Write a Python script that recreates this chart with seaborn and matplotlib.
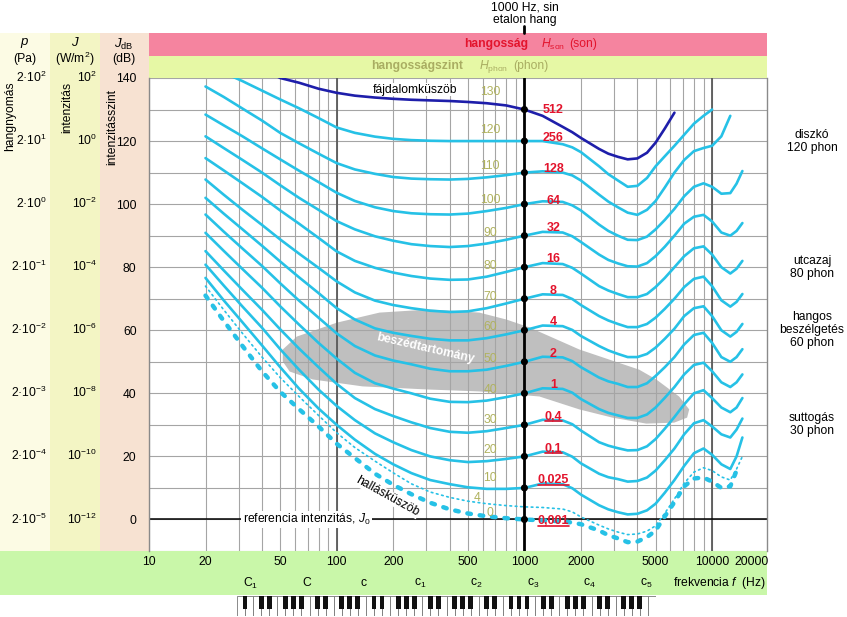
import numpy as np
import pandas as pd
import matplotlib
matplotlib.use("Agg")
import matplotlib.pyplot as plt
import matplotlib.ticker as mticker
import matplotlib.transforms as mtrans
from matplotlib.patches import Rectangle, Polygon
from matplotlib.lines import Line2D
import seaborn as sns

nan = np.nan

freq = [20, 25, 31.5, 40, 50, 63, 80, 100, 125, 160, 200, 250, 315, 400, 500, 630, 800,
        1000, 1250, 1600, 1800, 2000, 2500, 2800, 3150, 3550, 4000, 4500, 5000, 5600, 6300,
        7100, 8000, 9000, 10000, 11200, 12500, 13500, 14500]

# equal loudness contours (dB)
pain_130 = [nan, nan, nan, 143.0, 140.0, 138.5, 136.6, 135.3, 134.4, 133.8, 133.4, 133.1, 132.9,
            132.7, 132.4, 132.0, 131.3, 130.0, 128.0, 124.5, 122.8, 121.0, 117.5, 116.0, 115.0,
            114.2, 114.5, 116.3, 119.5, 124.0, 129.0, nan, nan, nan, nan, nan, nan, nan, nan]
phon_120 = [144.5, 141.7, 139.0, 136.0, 133.2, 130.4, 127.3, 124.3, 122.6, 121.4, 120.7, 120.3,
            120.1, 120.0, 120.0, 120.0, 120.0, 120.0, 120.0, 119.0, 118.0, 116.5, 112.0, 109.5,
            107.5, 105.5, 105.8, 108.3, 112.0, 115.2, 118.5, 122.0, 125.5, 128.0, 130.0,
            nan, nan, nan, nan]
phon_110 = [137.3, 134.0, 130.3, 126.5, 122.6, 119.3, 116.0, 113.0, 111.0, 109.6, 108.6, 108.1,
            107.9, 107.8, 108.0, 108.5, 109.2, 110.0, 110.4, 110.0, 109.1, 107.5, 103.0, 100.8,
            99.0, 97.3, 96.6, 98.2, 101.0, 105.3, 110.0, 114.0, 116.8, 117.8, 118.5, 121.5,
            128.0, nan, nan]
phon_100 = [128.4, 125.0, 121.5, 117.7, 114.2, 110.6, 107.0, 103.6, 101.0, 99.0, 97.8, 97.1,
            96.8, 96.7, 97.0, 97.8, 98.8, 100.0, 100.9, 100.7, 99.6, 98.0, 93.5, 91.5, 90.0,
            88.7, 88.6, 89.7, 92.0, 95.0, 98.5, 102.5, 105.5, 106.6, 105.5, 103.3, 103.5,
            106.5, 110.5]
phon_90 = [121.5, 117.8, 114.0, 110.0, 106.0, 102.0, 98.2, 94.6, 92.0, 89.8, 88.4, 87.3, 86.7,
           86.4, 86.7, 87.5, 88.7, 90.0, 91.2, 91.0, 89.8, 88.0, 84.0, 82.3, 81.2, 80.3, 80.2,
           81.3, 83.5, 86.5, 90.0, 93.8, 96.0, 96.6, 94.5, 91.0, 90.0, 91.5, 94.0]
phon_80 = [114.6, 110.7, 106.6, 102.3, 98.0, 93.8, 89.3, 85.0, 82.0, 79.8, 78.3, 77.2, 76.4,
           76.0, 76.1, 77.0, 78.5, 80.0, 81.3, 81.0, 79.8, 78.0, 74.0, 72.6, 71.5, 70.5, 70.5,
           71.5, 73.7, 76.6, 80.0, 83.5, 86.0, 86.6, 84.0, 80.0, 78.0, 79.5, 82.0]
phon_70 = [107.8, 103.0, 98.2, 93.4, 88.8, 84.3, 79.8, 75.5, 72.0, 69.4, 68.0, 67.0, 66.2, 65.8,
           66.0, 67.0, 68.5, 70.0, 71.4, 71.2, 69.9, 68.0, 64.5, 63.1, 62.0, 61.0, 61.0, 62.0,
           64.0, 66.8, 70.0, 73.7, 76.3, 77.0, 74.0, 69.5, 67.5, 69.0, 71.5]
phon_60 = [102.0, 97.0, 92.0, 86.8, 81.8, 76.8, 71.8, 67.0, 63.4, 60.6, 59.2, 58.2, 57.3, 56.8,
           56.8, 57.5, 58.7, 60.0, 61.5, 61.3, 60.1, 58.2, 55.0, 53.6, 52.5, 51.5, 51.5, 52.5,
           54.5, 57.3, 60.5, 64.5, 67.0, 67.6, 64.5, 60.0, 58.0, 59.5, 62.0]
phon_50 = [96.7, 91.3, 85.9, 80.4, 74.9, 69.4, 64.0, 59.0, 55.0, 52.0, 50.4, 49.2, 47.8, 47.0,
           47.0, 47.5, 48.7, 50.0, 51.6, 51.4, 50.2, 48.3, 45.0, 43.8, 43.0, 42.0, 42.0, 43.2,
           45.5, 48.3, 51.5, 55.5, 58.5, 59.2, 56.0, 51.5, 50.0, 51.5, 54.0]
phon_40 = [90.9, 85.2, 79.4, 73.5, 67.6, 61.8, 56.0, 51.0, 46.5, 43.2, 41.5, 40.0, 38.3, 37.3,
           37.2, 37.7, 38.8, 40.0, 41.6, 41.4, 40.2, 38.2, 35.0, 33.8, 33.0, 32.2, 32.2, 33.3,
           35.5, 38.6, 42.0, 46.0, 49.0, 49.7, 47.0, 43.5, 42.0, 43.5, 46.0]
phon_30 = [85.1, 79.0, 72.8, 66.5, 60.3, 54.2, 48.3, 43.0, 38.5, 35.0, 32.8, 30.8, 29.0, 27.8,
           27.5, 28.0, 29.0, 30.0, 31.6, 31.4, 30.2, 28.2, 24.5, 23.4, 22.6, 21.9, 22.0, 23.2,
           25.5, 28.8, 32.5, 36.5, 40.0, 41.0, 38.5, 35.5, 34.0, 35.5, 38.5]
phon_20 = [80.8, 74.2, 67.5, 60.8, 54.0, 47.5, 41.2, 36.0, 31.5, 27.3, 24.5, 22.0, 20.0, 18.8,
           18.2, 18.5, 19.2, 20.0, 21.5, 21.3, 19.9, 17.8, 14.5, 13.4, 12.8, 12.0, 12.2, 13.3,
           15.5, 18.8, 22.5, 27.0, 30.5, 31.5, 29.5, 27.0, 26.0, 28.5, 32.0]
phon_10 = [76.6, 69.5, 62.5, 55.2, 48.3, 41.5, 35.2, 30.0, 25.3, 20.8, 17.5, 14.7, 12.5, 11.2,
           10.2, 9.7, 9.7, 10.0, 11.4, 11.2, 9.9, 7.9, 4.5, 3.2, 2.3, 1.6, 1.8, 2.9, 5.0, 8.5,
           12.5, 17.0, 21.0, 22.5, 20.5, 17.5, 16.0, 20.0, 26.0]
phon_4 = [74.0, 66.5, 59.0, 51.5, 45.0, 39.0, 33.0, 27.5, 22.8, 18.5, 14.8, 11.3, 8.7, 7.0, 5.8,
          5.0, 4.4, 4.0, 3.8, 3.3, 2.4, 0.8, -1.8, -3.0, -4.0, -4.8, -4.6, -3.7, -2.0, 2.0,
          6.5, 11.5, 15.0, 16.4, 15.5, 13.5, 12.5, 16.0, 20.0]
threshold_0 = [71.0, 63.0, 55.0, 47.0, 40.5, 35.0, 29.5, 24.0, 19.5, 14.5, 11.0, 8.0, 5.3, 3.2,
               1.9, 1.0, 0.4, 0.0, -0.3, -0.6, -1.0, -1.5, -3.5, -5.0, -6.0, -7.2, -7.0, -5.6,
               -3.5, 1.0, 5.5, 10.5, 13.0, 13.3, 12.0, 10.0, 10.5, 15.5, nan]

dot_levels = [130, 120, 110, 100, 90, 80, 70, 60, 50, 40, 30, 20, 10, 0]
son_labels = ['512', '256', '128', '64', '32', '16', '8', '4', '2', '1',
              '0,4', '0,1', '0,025', '0,001']

# speech area outline (Hz, dB)
speech_freq = [51.6, 61.3, 100, 169, 312, 576, 802, 1064, 1963, 4090, 5040, 6670, 7550,
               7360, 6280, 4460, 2940, 1963, 1202, 576, 312, 137.5, 74.5, 56.2, 51.6]
speech_db = [53.9, 58.0, 62.4, 65.6, 66.6, 65.6, 63.4, 60.9, 53.9, 47.5, 44.4, 39.0, 34.9,
             32.3, 30.7, 30.4, 32.3, 34.9, 39.0, 40.6, 41.2, 42.2, 44.4, 46.9, 50.1]

freq_ticks = [10, 20, 50, 100, 200, 500, 1000, 2000, 5000, 10000]
db_ticks = [0, 20, 40, 60, 80, 100, 120, 140]
pressure_labels = ['2·10$^{-5}$', '2·10$^{-4}$', '2·10$^{-3}$', '2·10$^{-2}$',
                   '2·10$^{-1}$', '2·10$^{0}$', '2·10$^{1}$', '2·10$^{2}$']
intensity_labels = ['10$^{-12}$', '10$^{-10}$', '10$^{-8}$', '10$^{-6}$',
                    '10$^{-4}$', '10$^{-2}$', '10$^{0}$', '10$^{2}$']
note_names = ['C$_1$', 'C', 'c', 'c$_1$', 'c$_2$', 'c$_3$', 'c$_4$', 'c$_5$']
note_freq = [32.7, 65.4, 130.8, 261.6, 523.3, 1046.5, 2093.0, 4186.0]
examples = ['diszkó\n120 phon', 'utcazaj\n80 phon', 'hangos\nbeszélgetés\n60 phon',
            'suttogás\n30 phon']
example_levels = [120, 80, 60, 30]

BLUE = '#26c1e6'
NAVY = '#1e1eaa'
RED = '#e3142d'
OLIVE = '#b0b25e'

sns.set_style("white")
plt.rcParams['font.family'] = ['Liberation Sans', 'DejaVu Sans']
plt.rcParams['mathtext.fontset'] = 'custom'
plt.rcParams['mathtext.rm'] = 'Liberation Sans'
plt.rcParams['mathtext.it'] = 'Liberation Sans:italic'
plt.rcParams['mathtext.bf'] = 'Liberation Sans:bold'
plt.rcParams['font.size'] = 8.7
plt.rcParams['text.color'] = 'black'

W, H = 847, 617
fig = plt.figure(figsize=(W / 100, H / 100), dpi=100)
fig.patch.set_facecolor('white')
ax = fig.add_axes([149 / W, 1 - 551 / H, 618 / W, 473 / H])


def fx(x):
    return x / W


def fy(y):
    return 1 - y / H


# coloured bands around the plot
bands = [(0, 33, 50, 551, '#fcfbe4'), (50, 33, 100, 551, '#f3f5c4'),
         (100, 33, 149, 551, '#f7e2d2'), (149, 33, 767, 56, '#f5849f'),
         (149, 56, 767, 78, '#e6f8a5'), (0, 551, 767, 595, '#c9f7a9')]
for x0, y0, x1, y1, c in bands:
    fig.add_artist(Rectangle((fx(x0), fy(y1)), (x1 - x0) / W, (y1 - y0) / H,
                             transform=fig.transFigure, facecolor=c, edgecolor='none', zorder=-1))

# curves
curves = {120: phon_120, 110: phon_110, 100: phon_100, 90: phon_90, 80: phon_80, 70: phon_70,
          60: phon_60, 50: phon_50, 40: phon_40, 30: phon_30, 20: phon_20, 10: phon_10}
df = pd.concat([pd.DataFrame({'freq': freq, 'level': v, 'phon': k})
                for k, v in curves.items()]).dropna()
sns.lineplot(data=df, x='freq', y='level', units='phon', estimator=None, sort=False,
             color=BLUE, lw=1.9, ax=ax, zorder=2)
pain = pd.DataFrame({'freq': freq, 'level': pain_130}).dropna()
sns.lineplot(data=pain, x='freq', y='level', estimator=None, sort=False,
             color=NAVY, lw=1.9, ax=ax, zorder=2.2)
thin = pd.DataFrame({'freq': freq, 'level': phon_4}).dropna()
sns.lineplot(data=thin, x='freq', y='level', estimator=None, sort=False, color=BLUE, lw=1.2,
             linestyle=(0, (1, 2.2)), dash_capstyle='round', ax=ax, zorder=2)
thick = pd.DataFrame({'freq': freq, 'level': threshold_0}).dropna()
sns.lineplot(data=thick, x='freq', y='level', estimator=None, sort=False, color=BLUE, lw=3.2,
             linestyle=(0, (0.8, 2.0)), dash_capstyle='round', ax=ax, zorder=2)

ax.add_patch(Polygon(np.column_stack([speech_freq, speech_db]), closed=True,
                     facecolor='#bfbfbf', edgecolor='none', zorder=0.3))

ax.set_xscale('log')
ax.set_xlim(10, 19610)
ax.set_ylim(-10, 140)
ax.set_xlabel('')
ax.set_ylabel('')

grid_x = [m * 10 ** e for e in range(1, 5) for m in range(1, 10) if m * 10 ** e <= 19000]
ax.set_xticks(grid_x)
ax.set_xticklabels([str(g) if g in freq_ticks else '' for g in grid_x])
ax.xaxis.set_minor_locator(mticker.NullLocator())
yt = list(range(-10, 141, 10))
ax.set_yticks(yt)
ax.set_yticklabels([str(v) if v in db_ticks else '' for v in yt])
ax.grid(True, color='#a5a5a5', lw=0.8)
ax.set_axisbelow(True)
ax.tick_params(length=0, labelsize=8.7, labelcolor='black')
ax.tick_params(axis='x', pad=3.5)
ax.tick_params(axis='y', pad=9)
for s in ['top', 'bottom']:
    ax.spines[s].set_visible(False)
for s in ['left', 'right']:
    ax.spines[s].set_color('#8a8a8a')
    ax.spines[s].set_linewidth(1)

ax.axvline(100, color='#5a5a5a', lw=1.3, zorder=0.7)
ax.axvline(10000, color='#5a5a5a', lw=1.3, zorder=0.7)
ax.axhline(0, color='black', lw=1.1, zorder=0.8)

# 1000 Hz reference line, with its short tick above the bands
ax.axvline(1000, color='black', lw=2, zorder=3)
xblend = mtrans.blended_transform_factory(ax.transData, fig.transFigure)
fig.add_artist(Line2D([1000, 1000], [fy(26), fy(33)], color='black', lw=2, transform=xblend))
fig.text(fx(525), fy(1), '1000 Hz, sin\netalon hang', ha='center', va='top', linespacing=1.1)
sns.scatterplot(x=[1000] * len(dot_levels), y=dot_levels, color='black', s=26,
                edgecolor='none', ax=ax, zorder=4)
blend = mtrans.blended_transform_factory(ax.transData, ax.transAxes)
ax.text(20000, -4.9 / 473, '20000', transform=blend, ha='right', va='top', clip_on=False)

# phon numbers and son values
for lvl, vals in list(curves.items()) + [(130, pain_130)]:
    ax.text(656, vals[freq.index(630)] + 3.5, str(lvl), color=OLIVE, ha='center',
            va='center', zorder=5)
ax.text(558, phon_4[freq.index(500)] + 1, '4', color=OLIVE, ha='center', va='center', zorder=5)
ax.text(656, threshold_0[freq.index(630)] + 1, '0', color=OLIVE, ha='center', va='center',
        zorder=5)

underlined = []
for lab, lvl in zip(son_labels, dot_levels):
    dy = 2.5 if lvl <= 90 else 1.0
    if lvl == 130:
        dy = -0.3
    if lvl == 0:
        dy = -0.5
    t = ax.text(1430, lvl + dy, lab, color=RED, fontweight='bold', fontsize=9,
                ha='center', va='center', zorder=6)
    if lvl <= 30:
        underlined.append(t)

# annotations inside the plot
ax.text(261, 136.3, 'fájdalomküszöb', ha='center', va='center', zorder=5,
        bbox=dict(fc='white', ec='none', pad=0.5))
ax.text(187, 7.3, 'hallásküszöb', ha='center', va='center', rotation=-29,
        rotation_mode='anchor', zorder=5, bbox=dict(fc='white', ec='none', pad=0.3))
ax.text(295, 54.2, 'beszédtartomány', ha='center', va='center', rotation=-13,
        rotation_mode='anchor', color='white', fontweight='bold', zorder=5)
ax.text(69, 0, 'referencia intenzitás, $J_0$', ha='center', va='center', zorder=5,
        bbox=dict(fc='white', ec='none', pad=1))

# band titles
fig.text(fx(528), fy(44.5), 'hangosság', color=RED, fontweight='bold', ha='right', va='center')
fig.text(fx(541), fy(44.5), '$H_{\\rm son}$', color=RED, ha='left', va='center')
fig.text(fx(569), fy(44.5), '(son)', color=RED, ha='left', va='center')
fig.text(fx(463), fy(66.5), 'hangosságszint', color='#a9ad62', fontweight='bold',
         ha='right', va='center')
fig.text(fx(479), fy(66.5), '$H_{\\rm phon}$', color='#a9ad62', ha='left', va='center')
fig.text(fx(513), fy(66.5), '(phon)', color='#a9ad62', ha='left', va='center')

# left scales
yblend = mtrans.blended_transform_factory(fig.transFigure, ax.transData)
for lab_p, lab_i, lvl in zip(pressure_labels, intensity_labels, db_ticks):
    ax.text(fx(47), lvl - 1.3, lab_p, transform=yblend, ha='right', va='baseline',
            clip_on=False)
    ax.text(fx(97), lvl - 1.3, lab_i, transform=yblend, ha='right', va='baseline',
            clip_on=False)
fig.text(fx(25), fy(43), '$p$', ha='center', va='center', fontsize=9.5)
fig.text(fx(25), fy(59), '(Pa)', ha='center', va='center')
fig.text(fx(75), fy(43), '$J$', ha='center', va='center', fontsize=9.5)
fig.text(fx(75), fy(59), '(W/m$^2$)', ha='center', va='center')
fig.text(fx(124), fy(44), '$J_{\\rm dB}$', ha='center', va='center', fontsize=9.5)
fig.text(fx(124), fy(59), '(dB)', ha='center', va='center')
fig.text(fx(10), fy(116), 'hangnyomás', rotation=90, ha='center', va='center')
fig.text(fx(67), fy(107), 'intenzitás', rotation=90, ha='center', va='center')
fig.text(fx(112), fy(127), 'intenzitásszint', rotation=90, ha='center', va='center')

# right side examples
for txt, lvl in zip(examples, example_levels):
    ax.text(fx(812), lvl, txt, transform=yblend, ha='center', va='center',
            linespacing=1.1, clip_on=False)

# note names and frequency label
for name, nf in zip(note_names, note_freq):
    ax.text(nf * 1.06, fy(583), name, transform=xblend, ha='center', va='center',
            clip_on=False)
fig.text(fx(766), fy(583), 'frekvencia $f$  (Hz)', ha='right', va='center')

# piano keyboard
axk = fig.add_axes([237 / W, 1 - 616 / H, 419 / W, 20 / H])
axk.set_xlim(0, 52)
axk.set_ylim(0, 1)
axk.axis('off')
names = 'ABCDEFG'
for i in range(52):
    axk.add_patch(Rectangle((i, 0), 1, 1, facecolor='white', edgecolor='#777777', lw=0.6))
for i in range(51):
    if names[i % 7] in 'ACDFG':
        axk.add_patch(Rectangle((i + 0.7, 0.36), 0.6, 0.64, facecolor='#111111',
                                edgecolor='none'))

# underline the small son values
fig.canvas.draw()
r = fig.canvas.get_renderer()
for t in underlined:
    bb = t.get_window_extent(r)
    fig.add_artist(Line2D([bb.x0, bb.x1], [bb.y0 + 1.5, bb.y0 + 1.5], color=RED, lw=1.2,
                          transform=mtrans.IdentityTransform()))

fig.savefig('out.png', dpi=100)
